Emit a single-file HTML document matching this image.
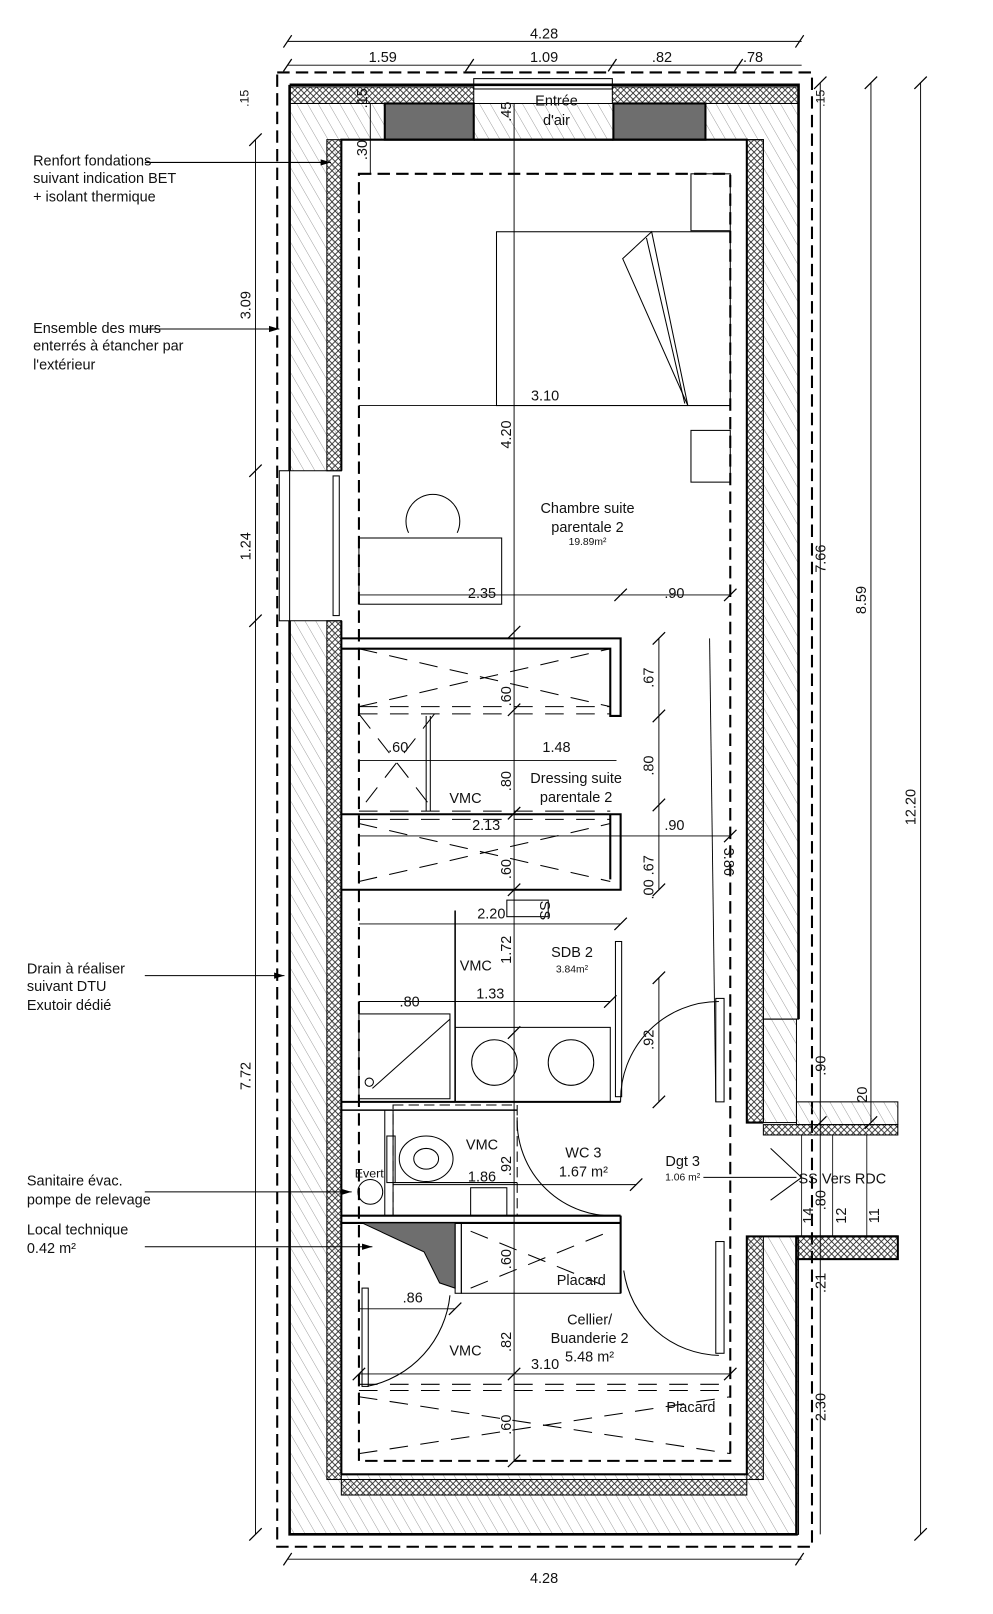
<!DOCTYPE html>
<html><head><meta charset="utf-8"><style>
html,body{margin:0;padding:0;background:#fff}
svg{display:block;font-family:"Liberation Sans",sans-serif}
text{fill:#111}
</style></head><body>
<svg width="993" height="1614" viewBox="0 0 960 1560" preserveAspectRatio="none" xmlns="http://www.w3.org/2000/svg">
<defs>
<pattern id="h" width="9" height="9" patternUnits="userSpaceOnUse" patternTransform="rotate(-30)">
<line x1="0" y1="0" x2="0" y2="9" stroke="#888" stroke-width="0.8"/></pattern>
<pattern id="ins" width="6" height="6" patternUnits="userSpaceOnUse">
<path d="M0 0 L6 6 M6 0 L0 6" stroke="#222" stroke-width="0.8"/></pattern>
<marker id="ar" markerWidth="10" markerHeight="8" refX="10" refY="4" orient="auto" markerUnits="userSpaceOnUse"><path d="M0 1 L10 4 L0 7 Z" fill="#000"/></marker>
</defs>
<g fill="none" stroke="#000" stroke-width="1">
<rect x="268" y="70" width="517" height="1425" stroke-dasharray="12 6" stroke-width="2"/>
<path d="M280 100 H772 V985 H738 V135 H330 V455 H280 Z" fill="url(#h)"/>
<path d="M280 600 H330 V1425 H722 V1195 H772 V1483 H280 Z" fill="url(#h)"/>
<rect x="738" y="985" width="32" height="100" fill="url(#h)"/>
<rect x="770" y="1065" width="98" height="22" fill="url(#h)"/>
<rect x="280" y="84" width="178" height="16" fill="url(#ins)"/>
<rect x="592" y="84" width="180" height="16" fill="url(#ins)"/>
<rect x="316" y="135" width="14" height="320" fill="url(#ins)"/>
<rect x="316" y="600" width="14" height="830" fill="url(#ins)"/>
<rect x="722" y="135" width="16" height="950" fill="url(#ins)"/>
<rect x="722" y="1195" width="16" height="235" fill="url(#ins)"/>
<rect x="330" y="1430" width="392" height="15" fill="url(#ins)"/>
<rect x="738" y="1087" width="130" height="10" fill="url(#ins)"/>
<rect x="770" y="1195" width="98" height="22" fill="url(#ins)" stroke-width="2"/>
<rect x="372" y="100" width="86" height="35" fill="#6e6e6e" stroke-width="2"/>
<rect x="593" y="100" width="89" height="35" fill="#6e6e6e" stroke-width="2"/>
<path d="M280 82 H772 V985 M770 1195 V1483 H280 V600 M280 455 V82" stroke-width="2.5"/>
<path d="M330 455 V135 H722 V1085 H738 M330 600 V1425 H722 V1195 H738" stroke-width="2"/>
<rect x="458" y="76" width="134" height="10"/>
<line x1="458" y1="135" x2="593" y2="135" stroke-width="2"/>
<rect x="270" y="455" width="10" height="145"/><rect x="322" y="460" width="6" height="135"/>
<rect x="347" y="168" width="359" height="1244" stroke-dasharray="12 6" stroke-width="2"/>
<rect x="480" y="224" width="226" height="168"/>
<rect x="668" y="168" width="38" height="55"/><rect x="668" y="416" width="38" height="50"/>
<path d="M602 250 L630 224 L665 392 Z"/>
<line x1="625" y1="230" x2="662" y2="390"/>
<rect x="347" y="520" width="138" height="64"/>
<path d="M395 515 A26 26 0 1 1 442 515"/>
<path d="M330 617 H600 V692 H590 V627 H330" stroke-width="2"/>
<path d="M330 787 H600 V860 H330 M590 787 V850" stroke-width="2"/>
<g stroke-dasharray="18 12">
<line x1="347" y1="683" x2="590" y2="683"/><line x1="347" y1="690" x2="590" y2="690"/>
<line x1="347" y1="784" x2="590" y2="784"/><line x1="347" y1="792" x2="590" y2="792"/>
<path d="M347 627 L590 683 M347 683 L590 627 M347 796 L590 852 M347 852 L590 796"/>
<path d="M347 690 L420 784 M420 690 L347 784"/>
</g>
<line x1="412" y1="692" x2="412" y2="784"/><line x1="416" y1="692" x2="416" y2="784"/>
<line x1="440" y1="880" x2="440" y2="1065" stroke-width="1.5"/>
<rect x="440" y="993" width="150" height="72"/>
<circle cx="478" cy="1027" r="22"/><circle cx="552" cy="1027" r="22"/>
<rect x="347" y="980" width="88" height="82"/>
<line x1="360" y1="1052" x2="435" y2="985"/><circle cx="357" cy="1046" r="4"/>
<rect x="595" y="910" width="6" height="150"/>
<rect x="490" y="870" width="40" height="16"/>
<line x1="330" y1="1065" x2="600" y2="1065" stroke-width="2"/>
<path d="M600 1065 A95 95 0 0 1 695 968" />
<rect x="692" y="965" width="8" height="100"/>
<line x1="330" y1="1073" x2="500" y2="1073" stroke-width="1.5"/>
<rect x="380" y="1068" width="120" height="107" stroke-dasharray="10 5"/>
<ellipse cx="412" cy="1120" rx="26" ry="22"/><ellipse cx="412" cy="1120" rx="12" ry="10"/>
<rect x="374" y="1098" width="8" height="45"/>
<line x1="372" y1="1073" x2="372" y2="1175"/><line x1="380" y1="1073" x2="380" y2="1175"/>
<circle cx="358" cy="1152" r="12"/>
<rect x="455" y="1148" width="35" height="27"/>
<line x1="380" y1="1143" x2="500" y2="1143"/>
<path d="M500 1080 A92 92 0 0 0 598 1175"/>
<line x1="330" y1="1175" x2="600" y2="1175" stroke-width="2"/>
<line x1="330" y1="1182" x2="600" y2="1182" stroke-width="2"/>
<path d="M350 1182 H440 V1245 L425 1240 L410 1210 Z" fill="#6e6e6e"/>
<rect x="440" y="1182" width="6" height="68"/>
<rect x="446" y="1182" width="154" height="68"/>
<path d="M455 1190 L590 1245 M455 1245 L590 1190" stroke-dasharray="18 12"/>
<line x1="600" y1="1175" x2="600" y2="1250" stroke-width="2"/>
<path d="M603 1228 A95 95 0 0 0 695 1310"/>
<rect x="692" y="1200" width="8" height="108"/>
<path d="M435 1252 A100 100 0 0 1 355 1340"/>
<rect x="350" y="1245" width="6" height="95"/>
<line x1="347" y1="1338" x2="706" y2="1338" stroke-dasharray="18 12"/>
<line x1="347" y1="1344" x2="706" y2="1344" stroke-dasharray="18 12"/>
<path d="M347 1350 L706 1405 M347 1405 L706 1350" stroke-dasharray="18 12"/>
<line x1="738" y1="1195" x2="868" y2="1195" stroke-width="2"/>
<path d="M745 1110 L775 1138 L745 1160"/>
<line x1="680" y1="1138" x2="770" y2="1138"/>
<g stroke-width="0.8"><line x1="775" y1="1097" x2="775" y2="1195"/><line x1="805" y1="1097" x2="805" y2="1195"/><line x1="838" y1="1097" x2="838" y2="1195"/></g>
<g stroke-width="0.9">
<line x1="278" y1="40" x2="775" y2="40"/><line x1="278" y1="63" x2="775" y2="63"/>
<line x1="278" y1="1507" x2="775" y2="1507"/>
<line x1="247" y1="135" x2="247" y2="1483"/>
<line x1="793" y1="80" x2="793" y2="1483"/>
<line x1="842" y1="80" x2="842" y2="1085"/>
<line x1="890" y1="80" x2="890" y2="1483"/>
<line x1="347" y1="392" x2="706" y2="392"/>
<line x1="347" y1="575" x2="706" y2="575"/>
<line x1="347" y1="735" x2="596" y2="735"/>
<line x1="347" y1="808" x2="706" y2="808"/>
<line x1="347" y1="893" x2="600" y2="893"/>
<line x1="347" y1="968" x2="590" y2="968"/>
<line x1="347" y1="1265" x2="440" y2="1265"/>
<line x1="347" y1="1328" x2="706" y2="1328"/>
<line x1="380" y1="1145" x2="615" y2="1145"/>
<line x1="497" y1="100" x2="497" y2="1412"/>
<line x1="358" y1="100" x2="358" y2="168"/>
<line x1="637" y1="617" x2="637" y2="860"/>
<line x1="637" y1="945" x2="637" y2="1065"/>
<line x1="686" y1="617" x2="692" y2="1065"/>
</g>
<g stroke-width="1.2">
<path d="M274 46 L282 34 M450 69 L458 57 M588 69 L596 57 M710 69 L718 57 M769 46 L777 34 M274 69 L282 57 M274 1513 L282 1501 M769 1513 L777 1501"/>
<path d="M241 141 L253 129 M241 461 L253 449 M241 606 L253 594 M241 1489 L253 1477"/>
<path d="M787 1091 L799 1079 M836 86 L848 74 M836 1091 L848 1079 M884 86 L896 74 M884 1489 L896 1477 M787 86 L799 74"/>
<path d="M631 623 L643 611 M631 698 L643 686 M631 784 L643 772 M631 866 L643 854 M631 951 L643 939 M631 1071 L643 1059"/>
<path d="M491 617 L503 605 M491 692 L503 680 M491 792 L503 780 M491 866 L503 854 M491 1004 L503 992 M491 1334 L503 1322 M491 1418 L503 1406"/>
<path d="M594 581 L606 569 M700 581 L712 569 M700 814 L712 802 M594 899 L606 887 M584 974 L596 962 M434 1271 L446 1259 M341 1334 L353 1322 M700 1334 L712 1322 M609 1151 L621 1139"/>
</g>
<line x1="140" y1="157" x2="320" y2="157" marker-end="url(#ar)"/>
<line x1="140" y1="318" x2="270" y2="318" marker-end="url(#ar)"/>
<line x1="140" y1="943" x2="275" y2="943" marker-end="url(#ar)"/>
<line x1="140" y1="1152" x2="340" y2="1152" marker-end="url(#ar)"/>
<line x1="140" y1="1205" x2="360" y2="1205" marker-end="url(#ar)"/>
</g>
<g font-size="14">
<text x="526" y="37" text-anchor="middle">4.28</text>
<text x="370" y="60" text-anchor="middle">1.59</text>
<text x="526" y="60" text-anchor="middle">1.09</text>
<text x="640" y="60" text-anchor="middle">.82</text>
<text x="728" y="60" text-anchor="middle">.78</text>
<text x="526" y="1530" text-anchor="middle">4.28</text>
<text x="538" y="102" text-anchor="middle">Entrée</text>
<text x="538" y="121" text-anchor="middle">d'air</text>
<text x="527" y="387" text-anchor="middle">3.10</text>
<text x="466" y="578" text-anchor="middle">2.35</text>
<text x="652" y="578" text-anchor="middle">.90</text>
<text x="385" y="727" text-anchor="middle">.60</text>
<text x="538" y="727" text-anchor="middle">1.48</text>
<text x="470" y="802" text-anchor="middle">2.13</text>
<text x="652" y="802" text-anchor="middle">.90</text>
<text x="475" y="888" text-anchor="middle">2.20</text>
<text x="396" y="973" text-anchor="middle">.80</text>
<text x="474" y="965" text-anchor="middle">1.33</text>
<text x="466" y="1142" text-anchor="middle">1.86</text>
<text x="399" y="1259" text-anchor="middle">.86</text>
<text x="527" y="1323" text-anchor="middle">3.10</text>
<text x="568" y="496" text-anchor="middle">Chambre suite</text>
<text x="568" y="514" text-anchor="middle">parentale 2</text>
<text x="568" y="527" text-anchor="middle" font-size="10">19.89m²</text>
<text x="557" y="757" text-anchor="middle">Dressing suite</text>
<text x="557" y="775" text-anchor="middle">parentale 2</text>
<text x="553" y="925" text-anchor="middle">SDB 2</text>
<text x="553" y="940" text-anchor="middle" font-size="10">3.84m²</text>
<text x="564" y="1119" text-anchor="middle">WC 3</text>
<text x="564" y="1137" text-anchor="middle">1.67 m²</text>
<text x="660" y="1127" text-anchor="middle">Dgt 3</text>
<text x="660" y="1141" text-anchor="middle" font-size="10">1.06 m²</text>
<text x="772" y="1144">SS Vers RDC</text>
<text x="562" y="1242" text-anchor="middle">Placard</text>
<text x="570" y="1280" text-anchor="middle">Cellier/</text>
<text x="570" y="1298" text-anchor="middle">Buanderie 2</text>
<text x="570" y="1316" text-anchor="middle">5.48 m²</text>
<text x="668" y="1365" text-anchor="middle">Placard</text>
<text x="450" y="776" text-anchor="middle">VMC</text>
<text x="460" y="938" text-anchor="middle">VMC</text>
<text x="466" y="1111" text-anchor="middle">VMC</text>
<text x="450" y="1310" text-anchor="middle">VMC</text>
<text x="343" y="1138" font-size="12">Evert</text>
<text x="32" y="160">Renfort fondations</text>
<text x="32" y="177">suivant indication BET</text>
<text x="32" y="195">+ isolant thermique</text>
<text x="32" y="322">Ensemble des murs</text>
<text x="32" y="339">enterrés à étancher par</text>
<text x="32" y="357">l'extérieur</text>
<text x="26" y="941">Drain à réaliser</text>
<text x="26" y="958">suivant DTU</text>
<text x="26" y="976">Exutoir dédié</text>
<text x="26" y="1146">Sanitaire évac.</text>
<text x="26" y="1164">pompe de relevage</text>
<text x="26" y="1193">Local technique</text>
<text x="26" y="1211">0.42 m²</text>
<g text-anchor="middle">
<text transform="translate(242 295) rotate(-90)">3.09</text>
<text transform="translate(242 528) rotate(-90)">1.24</text>
<text transform="translate(242 1040) rotate(-90)">7.72</text>
<text transform="translate(798 540) rotate(-90)">7.66</text>
<text transform="translate(837 580) rotate(-90)">8.59</text>
<text transform="translate(885 780) rotate(-90)">12.20</text>
<text transform="translate(798 1360) rotate(-90)">2.30</text>
<text transform="translate(494 420) rotate(-90)">4.20</text>
<text transform="translate(494 673) rotate(-90)">.60</text>
<text transform="translate(494 755) rotate(-90)">.80</text>
<text transform="translate(494 840) rotate(-90)">.60</text>
<text transform="translate(494 918) rotate(-90)">1.72</text>
<text transform="translate(494 1127) rotate(-90)">.92</text>
<text transform="translate(494 1217) rotate(-90)">.60</text>
<text transform="translate(494 1297) rotate(-90)">.82</text>
<text transform="translate(494 1377) rotate(-90)">.60</text>
<text transform="translate(632 655) rotate(-90)">.67</text>
<text transform="translate(632 740) rotate(-90)">.80</text>
<text transform="translate(632 848) rotate(-90)">.00 .67</text>
<text transform="translate(632 1005) rotate(-90)">.92</text>
<text transform="translate(700 833) rotate(90)">3.86</text>
<text transform="translate(355 145) rotate(-90)">.30</text>
<text transform="translate(355 95) rotate(-90)">.15</text>
<text transform="translate(494 108) rotate(-90)">.45</text>
<text transform="translate(798 1030) rotate(-90)">.90</text>
<text transform="translate(838 1058) rotate(-90)">20</text>
<text transform="translate(798 1160) rotate(-90)">.80</text>
<text transform="translate(786 1175) rotate(-90)">14</text>
<text transform="translate(818 1175) rotate(-90)">12</text>
<text transform="translate(850 1175) rotate(-90)">11</text>
<text transform="translate(798 1240) rotate(-90)">.21</text>
<text transform="translate(522 880) rotate(90)">SS</text>
</g>
<text transform="translate(240 95) rotate(-90)" font-size="12" text-anchor="middle">.15</text>
<text transform="translate(797 95) rotate(-90)" font-size="12" text-anchor="middle">.15</text>
</g>
</svg>
</body></html>
